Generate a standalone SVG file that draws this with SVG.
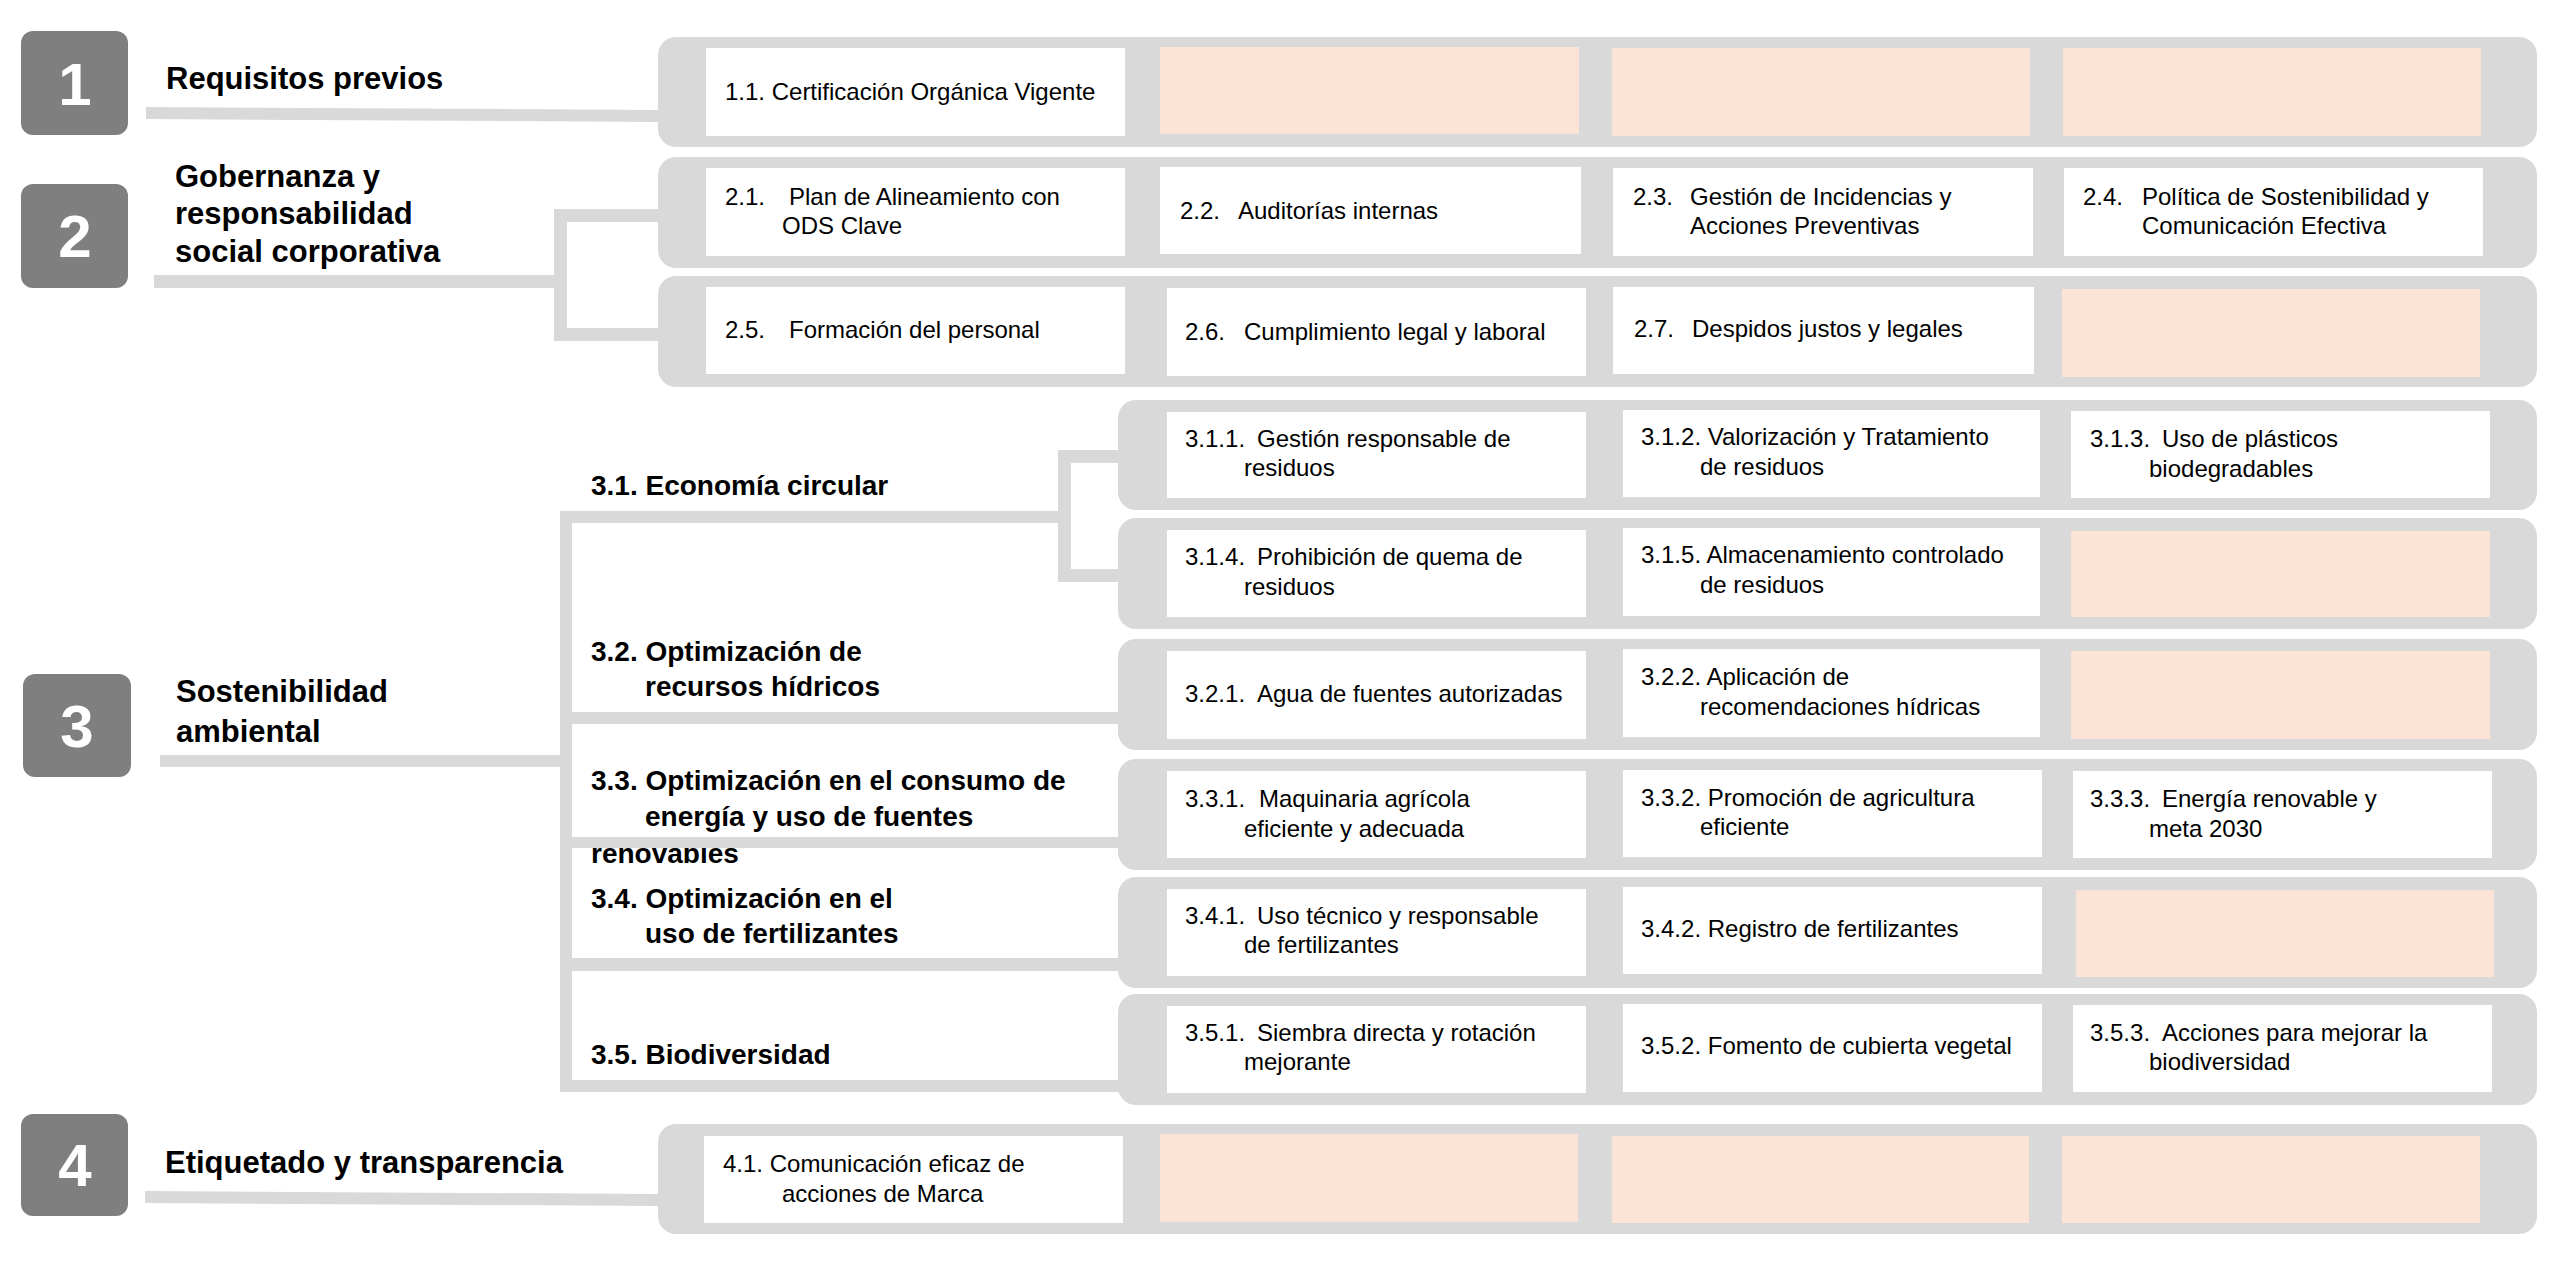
<svg xmlns="http://www.w3.org/2000/svg" width="2560" height="1281" viewBox="0 0 2560 1281">
<style>
.bg{fill:#ffffff}
.num{fill:#7f7f7f}
.nt{font-family:"Liberation Sans",Arial,sans-serif;font-weight:bold;font-size:60px;fill:#ffffff;text-anchor:middle}
.h{font-family:"Liberation Sans",Arial,sans-serif;font-weight:bold;font-size:31px;fill:#000000}
.s{font-family:"Liberation Sans",Arial,sans-serif;font-weight:bold;font-size:28px;fill:#000000}
.c{font-family:"Liberation Sans",Arial,sans-serif;font-size:24px;fill:#000000}
.con{fill:#d9d9d9}
.cell{fill:#ffffff}
.pe{fill:#fbe4d6}
.ln{fill:#d9d9d9}
</style>
<defs>
<clipPath id="clipRen"><rect x="580" y="848" width="300" height="30"/></clipPath>
</defs>
<rect class="bg" x="0" y="0" width="2560" height="1281"/>

<g id="connectors">
<polygon class="ln" points="146,107 660,110 660,122 146,119"/>
<rect class="ln" x="154" y="275" width="406" height="13"/>
<rect class="ln" x="554" y="209" width="13" height="132"/>
<rect class="ln" x="554" y="209" width="106" height="13"/>
<rect class="ln" x="554" y="328" width="106" height="13"/>
<rect class="ln" x="160" y="755" width="410" height="12"/>
<rect class="ln" x="560" y="511" width="12" height="581"/>
<rect class="ln" x="560" y="511" width="505" height="12"/>
<rect class="ln" x="1058" y="450" width="13" height="132"/>
<rect class="ln" x="1058" y="450" width="62" height="13"/>
<rect class="ln" x="1058" y="569" width="62" height="13"/>
<rect class="ln" x="560" y="712" width="560" height="12"/>
<rect class="ln" x="560" y="958" width="560" height="13"/>
<rect class="ln" x="560" y="1080" width="560" height="12"/>
<polygon class="ln" points="145,1191 660,1194 660,1206 145,1203"/>
</g>

<g id="n1">
<rect class="num" x="21" y="31" width="107" height="104" rx="12"/>
<text class="nt" x="75" y="105">1</text>
<text class="h" x="166" y="89">Requisitos previos</text>
</g>
<g id="row1">
<rect class="con" x="658" y="37" width="1879" height="110" rx="18"/>
<rect class="cell" x="706" y="48" width="419" height="88"/>
<rect class="pe" x="1160" y="47" width="419" height="87"/>
<rect class="pe" x="1612" y="48" width="418" height="88"/>
<rect class="pe" x="2063" y="48" width="418" height="88"/>
<text class="c" x="725" y="100">1.1. Certificación Orgánica Vigente</text>
</g>

<g id="n2">
<rect class="num" x="21" y="184" width="107" height="104" rx="12"/>
<text class="nt" x="75" y="257">2</text>
<text class="h" x="175" y="187">Gobernanza y</text>
<text class="h" x="175" y="224">responsabilidad</text>
<text class="h" x="175" y="262">social corporativa</text>
</g>
<g id="row2a">
<rect class="con" x="658" y="157" width="1879" height="111" rx="18"/>
<rect class="cell" x="706" y="168" width="419" height="88"/>
<rect class="cell" x="1160" y="167" width="421" height="87"/>
<rect class="cell" x="1613" y="168" width="420" height="88"/>
<rect class="cell" x="2064" y="168" width="419" height="88"/>
<text class="c" y="205"><tspan x="725">2.1.</tspan><tspan x="789">Plan de Alineamiento con</tspan></text>
<text class="c" x="782" y="234">ODS Clave</text>
<text class="c" y="219"><tspan x="1180">2.2.</tspan><tspan x="1238">Auditorías internas</tspan></text>
<text class="c" y="205"><tspan x="1633">2.3.</tspan><tspan x="1690">Gestión de Incidencias y</tspan></text>
<text class="c" x="1690" y="234">Acciones Preventivas</text>
<text class="c" y="205"><tspan x="2083">2.4.</tspan><tspan x="2142">Política de Sostenibilidad  y</tspan></text>
<text class="c" x="2142" y="234">Comunicación Efectiva</text>
</g>
<g id="row2b">
<rect class="con" x="658" y="276" width="1879" height="111" rx="18"/>
<rect class="cell" x="706" y="287" width="419" height="87"/>
<rect class="cell" x="1167" y="288" width="419" height="88"/>
<rect class="cell" x="1613" y="287" width="421" height="87"/>
<rect class="pe" x="2062" y="289" width="418" height="88"/>
<text class="c" y="338"><tspan x="725">2.5.</tspan><tspan x="789">Formación del personal</tspan></text>
<text class="c" y="340"><tspan x="1185">2.6.</tspan><tspan x="1244">Cumplimiento legal y laboral</tspan></text>
<text class="c" y="337"><tspan x="1634">2.7.</tspan><tspan x="1692">Despidos justos y legales</tspan></text>
</g>

<g id="n3">
<rect class="num" x="23" y="674" width="108" height="103" rx="12"/>
<text class="nt" x="77" y="747">3</text>
<text class="h" x="176" y="702">Sostenibilidad</text>
<text class="h" x="176" y="742">ambiental</text>
</g>
<g id="s31">
<text class="s" x="591" y="495">3.1. Economía circular</text>
</g>
<g id="s32">
<text class="s" x="591" y="661">3.2. Optimización de</text>
<text class="s" x="645" y="696">recursos hídricos</text>
</g>
<g id="s33">
<text class="s" x="591" y="790">3.3. Optimización en el consumo de</text>
<text class="s" x="645" y="826">energía y uso de fuentes</text>
<text class="s" x="591" y="863" clip-path="url(#clipRen)">renovables</text>
</g>
<rect class="ln" x="572" y="837" width="548" height="11"/>
<g id="s34">
<text class="s" x="591" y="908">3.4. Optimización en el</text>
<text class="s" x="645" y="943">uso de fertilizantes</text>
</g>
<g id="s35">
<text class="s" x="591" y="1064">3.5. Biodiversidad</text>
</g>

<g id="row31a">
<rect class="con" x="1118" y="400" width="1419" height="110" rx="18"/>
<rect class="cell" x="1167" y="412" width="419" height="86"/>
<rect class="cell" x="1623" y="410" width="417" height="87"/>
<rect class="cell" x="2071" y="411" width="419" height="87"/>
<text class="c" y="447"><tspan x="1185">3.1.1.</tspan><tspan x="1257">Gestión responsable de</tspan></text>
<text class="c" x="1244" y="476">residuos</text>
<text class="c" x="1641" y="445">3.1.2. Valorización y Tratamiento</text>
<text class="c" x="1700" y="475">de residuos</text>
<text class="c" y="447"><tspan x="2090">3.1.3.</tspan><tspan x="2162">Uso de plásticos</tspan></text>
<text class="c" x="2149" y="477">biodegradables</text>
</g>
<g id="row31b">
<rect class="con" x="1118" y="518" width="1419" height="111" rx="18"/>
<rect class="cell" x="1167" y="530" width="419" height="87"/>
<rect class="cell" x="1623" y="528" width="417" height="88"/>
<rect class="pe" x="2071" y="531" width="419" height="86"/>
<text class="c" y="565"><tspan x="1185">3.1.4.</tspan><tspan x="1257">Prohibición de quema de</tspan></text>
<text class="c" x="1244" y="595">residuos</text>
<text class="c" x="1641" y="563">3.1.5. Almacenamiento controlado</text>
<text class="c" x="1700" y="593">de residuos</text>
</g>
<g id="row32">
<rect class="con" x="1118" y="639" width="1419" height="111" rx="18"/>
<rect class="cell" x="1167" y="651" width="419" height="88"/>
<rect class="cell" x="1623" y="649" width="417" height="88"/>
<rect class="pe" x="2071" y="651" width="419" height="88"/>
<text class="c" y="702"><tspan x="1185">3.2.1.</tspan><tspan x="1257">Agua de fuentes autorizadas</tspan></text>
<text class="c" x="1641" y="685">3.2.2. Aplicación de</text>
<text class="c" x="1700" y="715">recomendaciones hídricas</text>
</g>
<g id="row33">
<rect class="con" x="1118" y="759" width="1419" height="111" rx="18"/>
<rect class="cell" x="1167" y="771" width="419" height="87"/>
<rect class="cell" x="1623" y="770" width="419" height="87"/>
<rect class="cell" x="2073" y="771" width="419" height="87"/>
<text class="c" y="807"><tspan x="1185">3.3.1.</tspan><tspan x="1259">Maquinaria agrícola</tspan></text>
<text class="c" x="1244" y="837">eficiente y adecuada</text>
<text class="c" x="1641" y="806">3.3.2. Promoción de agricultura</text>
<text class="c" x="1700" y="835">eficiente</text>
<text class="c" y="807"><tspan x="2090">3.3.3.</tspan><tspan x="2162">Energía renovable y</tspan></text>
<text class="c" x="2149" y="837">meta 2030</text>
</g>
<g id="row34">
<rect class="con" x="1118" y="877" width="1419" height="111" rx="18"/>
<rect class="cell" x="1167" y="889" width="419" height="87"/>
<rect class="cell" x="1623" y="887" width="419" height="87"/>
<rect class="pe" x="2076" y="890" width="418" height="87"/>
<text class="c" y="924"><tspan x="1185">3.4.1.</tspan><tspan x="1257">Uso técnico y responsable</tspan></text>
<text class="c" x="1244" y="953">de fertilizantes</text>
<text class="c" x="1641" y="937">3.4.2. Registro de fertilizantes</text>
</g>
<g id="row35">
<rect class="con" x="1118" y="994" width="1419" height="111" rx="18"/>
<rect class="cell" x="1167" y="1006" width="419" height="87"/>
<rect class="cell" x="1623" y="1004" width="419" height="88"/>
<rect class="cell" x="2073" y="1005" width="419" height="87"/>
<text class="c" y="1041"><tspan x="1185">3.5.1.</tspan><tspan x="1257">Siembra directa y rotación</tspan></text>
<text class="c" x="1244" y="1070">mejorante</text>
<text class="c" x="1641" y="1054">3.5.2. Fomento de cubierta vegetal</text>
<text class="c" y="1041"><tspan x="2090">3.5.3.</tspan><tspan x="2162">Acciones para mejorar la</tspan></text>
<text class="c" x="2149" y="1070">biodiversidad</text>
</g>

<g id="n4">
<rect class="num" x="21" y="1114" width="107" height="102" rx="12"/>
<text class="nt" x="75" y="1186">4</text>
<text class="h" x="165" y="1173">Etiquetado y transparencia</text>
</g>
<g id="row4">
<rect class="con" x="658" y="1124" width="1879" height="110" rx="18"/>
<rect class="cell" x="704" y="1136" width="419" height="87"/>
<rect class="pe" x="1160" y="1134" width="418" height="88"/>
<rect class="pe" x="1612" y="1136" width="417" height="87"/>
<rect class="pe" x="2062" y="1136" width="418" height="87"/>
<text class="c" x="723" y="1172">4.1. Comunicación eficaz de</text>
<text class="c" x="782" y="1202">acciones de Marca</text>
</g>
</svg>
